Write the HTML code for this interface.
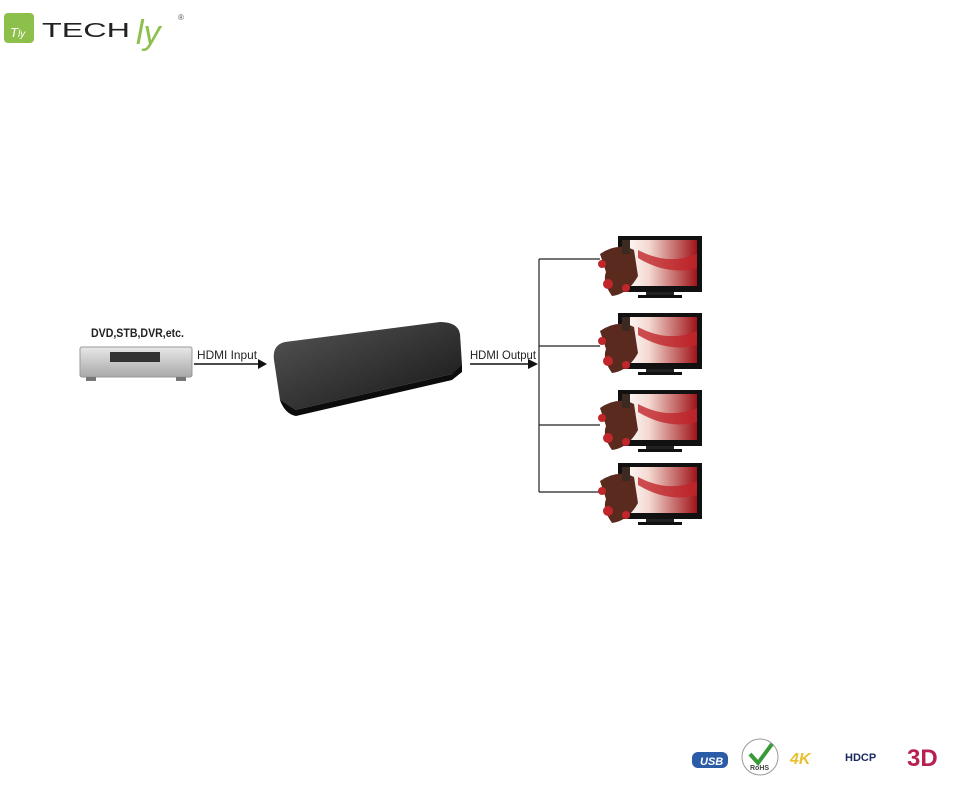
<!DOCTYPE html>
<html><head><meta charset="utf-8"><style>
body{margin:0;width:966px;height:800px;background:#fff;overflow:hidden;font-family:"Liberation Sans",sans-serif}
</style></head><body>
<svg width="966" height="800" xmlns="http://www.w3.org/2000/svg" font-family="Liberation Sans, sans-serif">
<defs>
<linearGradient id="dvd" x1="0" y1="0" x2="0" y2="1"><stop offset="0" stop-color="#e8e8e8"/><stop offset="1" stop-color="#a8a8a8"/></linearGradient>
<linearGradient id="box" x1="0" y1="0" x2="1" y2="1"><stop offset="0" stop-color="#555"/><stop offset="1" stop-color="#151515"/></linearGradient>
<linearGradient id="scr" x1="0" y1="0" x2="1" y2="0"><stop offset="0" stop-color="#fff"/><stop offset="0.35" stop-color="#f3d8d0"/><stop offset="1" stop-color="#a0141a"/></linearGradient>
<g id="tv">
<rect x="20" y="0" width="84" height="56" fill="#111"/>
<rect x="25" y="4" width="74" height="46" fill="url(#scr)"/>
<path d="M40 14 Q70 30 99 18 L99 32 Q70 40 40 22Z" fill="#c0262a" opacity=".8"/>
<rect x="48" y="56" width="28" height="4" fill="#222"/>
<rect x="40" y="59" width="44" height="3" fill="#111"/>
<path d="M2 18 Q20 6 36 14 L40 40 Q30 58 14 60 Q4 46 8 36 Z" fill="#5a2a1e"/>
<circle cx="10" cy="48" r="5" fill="#c0262a"/><circle cx="28" cy="52" r="4" fill="#c0262a"/><circle cx="4" cy="28" r="4" fill="#c0262a"/>
<rect x="24" y="4" width="8" height="14" fill="#3a2a22"/>
</g>
</defs>
<!-- logo -->
<rect x="4" y="13" width="30" height="30" rx="4" fill="#8dc04a"/>
<text x="10" y="37" font-size="13" fill="#fff" font-style="italic">T<tspan font-size="10">ly</tspan></text>
<text x="42" y="37" font-size="20" fill="#222" textLength="88" lengthAdjust="spacingAndGlyphs">TECH</text>
<text x="136" y="44" font-size="34" fill="#8dc04a" font-style="italic">ly</text>
<text x="178" y="20" font-size="8" fill="#555">®</text>
<!-- DVD -->
<text x="91" y="337" font-size="12" font-weight="bold" fill="#222" textLength="93" lengthAdjust="spacingAndGlyphs">DVD,STB,DVR,etc.</text>
<rect x="80" y="347" width="112" height="30" rx="2" fill="url(#dvd)" stroke="#999"/>
<rect x="110" y="352" width="50" height="10" fill="#333"/>
<rect x="86" y="377" width="10" height="4" fill="#777"/><rect x="176" y="377" width="10" height="4" fill="#777"/>
<!-- arrows -->
<text x="197" y="359" font-size="12" fill="#222" textLength="60" lengthAdjust="spacingAndGlyphs">HDMI Input</text>
<line x1="194" y1="364" x2="258" y2="364" stroke="#111" stroke-width="1.5"/>
<polygon points="258,359 267,364 258,369" fill="#111"/>
<text x="470" y="359" font-size="12" fill="#222" textLength="66" lengthAdjust="spacingAndGlyphs">HDMI Output</text>
<line x1="470" y1="364" x2="528" y2="364" stroke="#111" stroke-width="1.5"/>
<polygon points="528,359 538,364 528,369" fill="#111"/>
<!-- splitter -->
<path d="M285 342 L440 322 Q458 322 460 334 L462 365 Q462 372 452 374 L295 410 Q283 410 280 400 L274 360 Q272 345 285 342Z" fill="url(#box)"/>
<path d="M280 400 L295 410 L452 374 L462 365 L462 372 L452 380 L296 416 Q285 414 280 400Z" fill="#0c0c0c"/>
<!-- tree -->
<g stroke="#222" stroke-width="1.2">
<line x1="539" y1="259" x2="539" y2="492"/>
<line x1="539" y1="259" x2="600" y2="259"/>
<line x1="539" y1="346" x2="600" y2="346"/>
<line x1="539" y1="425" x2="600" y2="425"/>
<line x1="539" y1="492" x2="600" y2="492"/>
</g>
<use href="#tv" x="598" y="236"/>
<use href="#tv" x="598" y="313"/>
<use href="#tv" x="598" y="390"/>
<use href="#tv" x="598" y="463"/>
<!-- bottom icons -->
<rect x="692" y="752" width="36" height="16" rx="6" fill="#2a5ca8"/>
<text x="700" y="765" font-size="11" font-weight="bold" font-style="italic" fill="#fff">USB</text>
<circle cx="760" cy="757" r="18" fill="#fff" stroke="#999"/>
<path d="M750 754 L758 763 L772 744" stroke="#3a9a3a" stroke-width="4" fill="none"/>
<text x="750" y="770" font-size="7" font-weight="bold" fill="#444">RoHS</text>
<text x="790" y="764" font-size="16" font-weight="bold" font-style="italic" fill="#e8c030">4K</text>
<text x="845" y="761" font-size="11" font-weight="bold" fill="#1a2a60">HDCP</text>
<text x="907" y="766" font-size="24" font-weight="bold" fill="#b82050">3D</text>
</svg>
</body></html>
